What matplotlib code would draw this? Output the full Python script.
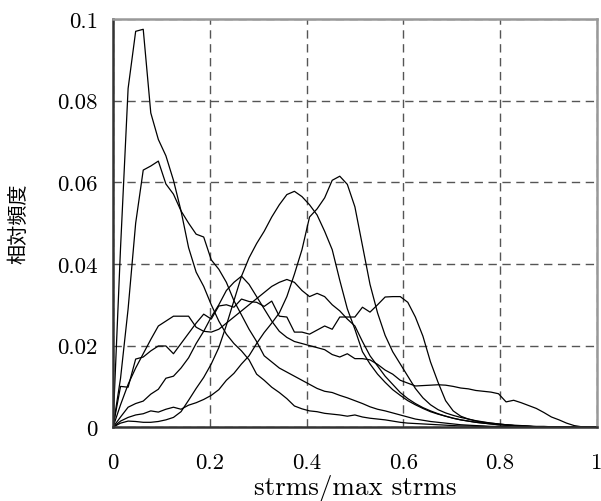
import matplotlib
matplotlib.use("Agg")
import matplotlib.pyplot as plt
import numpy as np

plt.rcParams['font.family'] = 'serif'
plt.rcParams['font.serif'] = ['cmr10', 'DejaVu Serif']
plt.rcParams['mathtext.fontset'] = 'cm'
plt.rcParams['axes.formatter.use_mathtext'] = True

# 65 bins over 0..1
x = np.linspace(0, 1, 65)

curve_a = [0, .044, .083, .097, .0975, .077, .0705, .0665, .0605, .053,
           .044, .038, .0345, .030, .026, .0228, .0205, .0187, .0165, .013,
           .0115, .0098, .0085, .007, .0052, .0045, .004, .0038, .0034, .0032,
           .003, .0027, .003, .0025, .0022, .002, .0018, .0015, .0012, .001,
           .0009, .0008, .0007, .0006, .0005, .0004, .0003, .0003, .0002, .0002,
           .0001, .0001, .0001, 0, 0, 0, 0, 0, 0, 0,
           0, 0, 0, 0, 0]
curve_b = [0, .012, .029, .05, .063, .064, .0652, .0596, .0571, .053,
           .050, .0473, .0466, .041, .0387, .0355, .031, .0275, .024, .021,
           .0175, .016, .0145, .0135, .0125, .0115, .0105, .0095, .0088, .0085,
           .0078, .0072, .0065, .0058, .005, .0044, .004, .0035, .003, .0025,
           .002, .0017, .0014, .0012, .001, .0008, .0006, .0005, .0004, .0003,
           .0002, .0002, .0001, 0, 0, 0, 0, 0, 0, 0,
           0, 0, 0, 0, 0]
curve_c = [0, .001, .0015, .0014, .0012, .0012, .0014, .0018, .0024, .0038,
           .0066, .0095, .0122, .0155, .0195, .025, .031, .037, .0415, .045,
           .048, .0515, .0545, .057, .0578, .0565, .0545, .052, .048, .0435,
           .036, .029, .024, .0185, .0155, .013, .011, .0092, .0078, .0065,
           .0055, .0046, .0038, .0032, .0027, .0022, .0018, .0015, .0012, .001,
           .0008, .0006, .0005, .0004, .0003, .0002, .0001, 0, 0, 0,
           0, 0, 0, 0, 0]
curve_d = [0, .0015, .0024, .003, .0033, .004, .0037, .0044, .0049, .0044,
           .0054, .006, .0068, .0078, .0092, .0115, .0132, .0155, .0175, .0205,
           .0232, .0255, .028, .032, .0375, .0435, .0515, .0535, .0562, .0605,
           .0615, .0595, .054, .0445, .035, .028, .0225, .0185, .0155, .0125,
           .0095, .0072, .0055, .0043, .0035, .0029, .0024, .002, .0016, .0013,
           .001, .0008, .0006, .0004, .0003, .0002, .0001, 0, 0, 0,
           0, 0, 0, 0, 0]
curve_e = [0, .0025, .0049, .0058, .0064, .0081, .0093, .012, .0125, .0145,
           .017, .0205, .0235, .027, .030, .0335, .0355, .037, .035, .032,
           .029, .026, .0235, .022, .021, .0205, .020, .0195, .019, .0178,
           .0172, .018, .0168, .0168, .0165, .0154, .014, .013, .0115, .0108,
           .0101, .0102, .0103, .0104, .0103, .010, .0096, .0094, .009, .0088,
           .0086, .0082, .0062, .0066, .006, .0053, .0046, .0036, .0025, .0018,
           .001, .0004, .0001, 0, 0]
curve_j = [0, .010, .0098, .0167, .0172, .0187, .0199, .0199, .018, .0205,
           .023, .0255, .0277, .0265, .0297, .030, .0294, .0314, .0308, .0306,
           .0296, .0309, .0272, .027, .0233, .0233, .0228, .0238, .0248, .024,
           .027, .027, .027, .0294, .0282, .030, .0319, .032, .032, .0306,
           .027, .0223, .016, .011, .0065, .004, .0027, .002, .0015, .0012,
           .001, .0008, .0006, .0005, .0004, .0003, .0002, .0002, .0001, .0001,
           0, 0, 0, 0, 0]
curve_f = [0, .0055, .0105, .0145, .018, .0215, .0248, .026, .0272, .0272,
           .0272, .0245, .0235, .0233, .024, .0255, .027, .0285, .030, .0315,
           .033, .0345, .0355, .0362, .0355, .0335, .032, .0328, .032, .030,
           .0285, .0265, .0248, .021, .0175, .015, .0125, .0105, .0085, .007,
           .0058, .0048, .004, .0033, .0027, .0022, .0018, .0015, .0012, .001,
           .0008, .0006, .0005, .0004, .0003, .0002, .0001, .0001, 0, 0,
           0, 0, 0, 0, 0]

curves = [curve_a, curve_b, curve_c, curve_d, curve_e, curve_j, curve_f]

fig = plt.figure(figsize=(6.01, 5.02), dpi=100)
ax = fig.add_axes([0.188, 0.147, 0.805, 0.813])

for c in curves:
    ax.plot(x, c, color='black', lw=0.9)

ax.set_xlim(0, 1)
ax.set_ylim(0, 0.1)
ax.set_xticks([0, 0.2, 0.4, 0.6, 0.8, 1])
ax.set_xticklabels(['0', '0.2', '0.4', '0.6', '0.8', '1'])
ax.set_yticks([0, 0.02, 0.04, 0.06, 0.08, 0.1])
ax.set_yticklabels(['0', '0.02', '0.04', '0.06', '0.08', '0.1'])
ax.tick_params(length=0, labelsize=16.5)
ax.tick_params(axis='x', pad=18)
ax.tick_params(axis='y', pad=11)
ax.grid(True, ls=(0, (6, 4)), color='#555555', lw=1)

for s in ['top', 'right']:
    ax.spines[s].set_color('#999999')
    ax.spines[s].set_linewidth(1.8)
for s in ['left', 'bottom']:
    ax.spines[s].set_color('#333333')
    ax.spines[s].set_linewidth(1.8)

ax.set_xlabel('strms/max strms', fontsize=19.5, labelpad=2)
ax.set_ylabel('相対頻度', fontsize=14.5, family=['Noto Sans CJK JP'], labelpad=20)

fig.savefig('out.png', dpi=100)
